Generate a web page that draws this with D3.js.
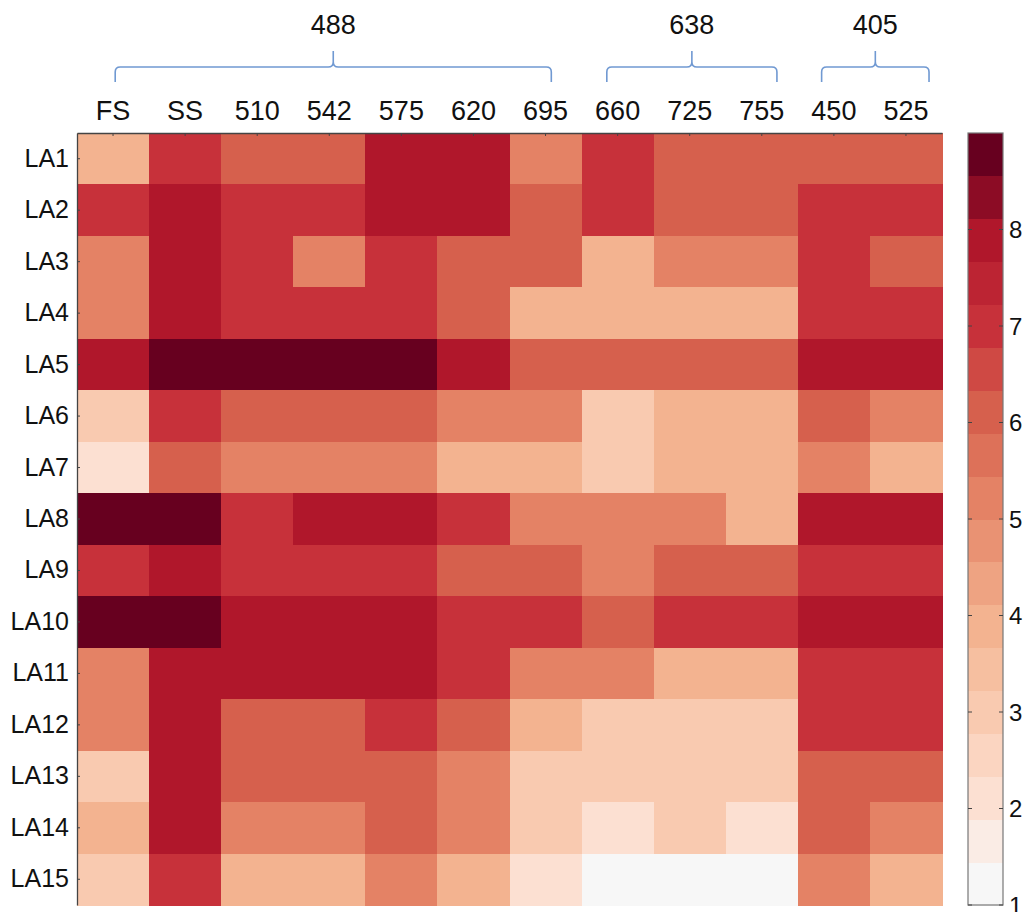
<!DOCTYPE html>
<meta charset="utf-8">
<title>LA heatmap</title>
<html>
<style>
body { margin: 0; background: #fff; }
svg { display: block; font-family: "Liberation Sans", Arial, Helvetica, sans-serif; }
.axis path, .axis line { stroke: #444; }
</style>
<body>
<svg width="1023" height="912"></svg>

<script src="https://d3js.org/d3.v7.min.js"></script>
<script>
// columns along the top, rows down the side
var columns = ["FS", "SS", "510", "542", "575", "620", "695", "660", "725", "755", "450", "525"];
var rows = ["LA1", "LA2", "LA3", "LA4", "LA5", "LA6", "LA7", "LA8", "LA9", "LA10", "LA11", "LA12", "LA13", "LA14", "LA15"];

// score per row, one value per column (same order as columns)
var LA1  = [4, 7, 6, 6, 8, 8, 5, 7, 6, 6, 6, 6];
var LA2  = [7, 8, 7, 7, 8, 8, 6, 7, 6, 6, 7, 7];
var LA3  = [5, 8, 7, 5, 7, 6, 6, 4, 5, 5, 7, 6];
var LA4  = [5, 8, 7, 7, 7, 6, 4, 4, 4, 4, 7, 7];
var LA5  = [8, 9, 9, 9, 9, 8, 6, 6, 6, 6, 8, 8];
var LA6  = [3, 7, 6, 6, 6, 5, 5, 3, 4, 4, 6, 5];
var LA7  = [2, 6, 5, 5, 5, 4, 4, 3, 4, 4, 5, 4];
var LA8  = [9, 9, 7, 8, 8, 7, 5, 5, 5, 4, 8, 8];
var LA9  = [7, 8, 7, 7, 7, 6, 6, 5, 6, 6, 7, 7];
var LA10 = [9, 9, 8, 8, 8, 7, 7, 6, 7, 7, 8, 8];
var LA11 = [5, 8, 8, 8, 8, 7, 5, 5, 4, 4, 7, 7];
var LA12 = [5, 8, 6, 6, 7, 6, 4, 3, 3, 3, 7, 7];
var LA13 = [3, 8, 6, 6, 6, 5, 3, 3, 3, 3, 6, 6];
var LA14 = [4, 8, 5, 5, 6, 5, 3, 2, 3, 2, 6, 5];
var LA15 = [3, 7, 4, 4, 5, 4, 2, 1, 1, 1, 5, 4];
var values = [LA1, LA2, LA3, LA4, LA5, LA6, LA7, LA8, LA9, LA10, LA11, LA12, LA13, LA14, LA15];

// groups of columns shown with braces (start / end in column units)
var groupNames = ["488", "638", "405"];
var groupSpans = [[0.53, 6.58], [7.35, 9.71], [10.33, 11.82]];

var colorbarTicks = [1, 2, 3, 4, 5, 6, 7, 8];

// colormap: 18 steps over 1..9, reds half of RdBu
var nSteps = 18;
var anchorSteps = [0, 2, 4, 6, 9, 11, 13, 15, 17];
var anchorColors = ["#f7f7f7", "#fce0d2", "#f9cab0", "#f3b390", "#e48265", "#d6604d", "#c7313a", "#b0172b", "#67001f"];
var stepColor = d3.scaleLinear().domain(anchorSteps).range(anchorColors).interpolate(d3.interpolateRgb);
var bands = d3.range(nSteps).map(function(i) { return stepColor(i); });
var color = d3.scaleQuantize().domain([1, 9]).range(bands);

var svg = d3.select("svg");
var plotLeft = 77, plotRight = 942, plotTop = 133, plotBottom = 905;

var x = d3.scaleBand().domain(columns).range([plotLeft, plotRight]);
var y = d3.scaleBand().domain(rows).range([plotTop, plotBottom]);
var colPos = d3.scaleLinear().domain([0, columns.length]).range([plotLeft, plotRight]);

var cells = [];
rows.forEach(function(r, i) {
  columns.forEach(function(c, j) {
    cells.push({row: r, col: c, value: values[i][j]});
  });
});

svg.append("g")
  .selectAll("rect")
  .data(cells)
  .enter().append("rect")
    .attr("x", function(d) { return x(d.col); })
    .attr("y", function(d) { return y(d.row); })
    .attr("width", x.bandwidth() + 0.5)
    .attr("height", y.bandwidth() + 0.5)
    .attr("fill", function(d) { return color(d.value); })
    .attr("shape-rendering", "crispEdges");

// top axis
var xAxis = svg.append("g")
  .attr("class", "axis")
  .attr("transform", "translate(0," + plotTop + ")")
  .call(d3.axisTop(x).tickSizeInner(-3).tickSizeOuter(0).tickPadding(13));
xAxis.selectAll("text").attr("font-size", 27).attr("fill", "#111");
xAxis.select(".domain").attr("stroke-width", 1.3);

// left axis
var yAxis = svg.append("g")
  .attr("class", "axis")
  .attr("transform", "translate(" + plotLeft + ",0)")
  .call(d3.axisLeft(y).tickSizeInner(-3).tickSizeOuter(0).tickPadding(8));
yAxis.selectAll("text").attr("font-size", 25).attr("fill", "#111");
yAxis.select(".domain").attr("stroke-width", 1.3);

// braces over column groups
var yH = 67, yEnd = 82, ySpike = 51, r = 5;
function brace(span) {
  var x0 = colPos(span[0]), x1 = colPos(span[1]), xm = (x0 + x1) / 2;
  return "M" + x0 + "," + yEnd + "L" + x0 + "," + (yH + r) +
    "Q" + x0 + "," + yH + " " + (x0 + r) + "," + yH +
    "L" + (xm - r) + "," + yH +
    "Q" + xm + "," + yH + " " + xm + "," + (yH - r) +
    "L" + xm + "," + ySpike +
    "M" + xm + "," + (yH - r) +
    "Q" + xm + "," + yH + " " + (xm + r) + "," + yH +
    "L" + (x1 - r) + "," + yH +
    "Q" + x1 + "," + yH + " " + x1 + "," + (yH + r) +
    "L" + x1 + "," + yEnd;
}

var groups = svg.append("g")
  .selectAll("g")
  .data(groupNames)
  .enter().append("g");

groups.append("path")
  .attr("d", function(d, i) { return brace(groupSpans[i]); })
  .attr("fill", "none")
  .attr("stroke", "#7099d2")
  .attr("stroke-width", 1.6);

groups.append("text")
  .attr("x", function(d, i) { return colPos((groupSpans[i][0] + groupSpans[i][1]) / 2); })
  .attr("y", 25)
  .attr("dy", "0.35em")
  .attr("text-anchor", "middle")
  .attr("font-size", 27)
  .attr("fill", "#111")
  .text(function(d) { return d; });

// colorbar
var cbX = 968, cbW = 35;
var cbY = d3.scaleLinear().domain([1, 9]).range([plotBottom, plotTop]);
var cb = svg.append("g");

cb.selectAll("rect")
  .data(bands)
  .enter().append("rect")
    .attr("x", cbX)
    .attr("y", function(d) { return cbY(color.invertExtent(d)[1]); })
    .attr("width", cbW)
    .attr("height", function(d) { var e = color.invertExtent(d); return cbY(e[0]) - cbY(e[1]) + 0.5; })
    .attr("fill", function(d) { return d; })
    .attr("shape-rendering", "crispEdges");

cb.append("rect")
  .attr("x", cbX)
  .attr("y", plotTop)
  .attr("width", cbW)
  .attr("height", plotBottom - plotTop)
  .attr("fill", "none")
  .attr("stroke", "#777")
  .attr("stroke-width", 1.2);

var cbTick = cb.selectAll(".cbtick")
  .data(colorbarTicks)
  .enter().append("g")
    .attr("class", "cbtick")
    .attr("transform", function(d) { return "translate(0," + cbY(d) + ")"; });

cbTick.append("line")
  .attr("x1", cbX).attr("x2", cbX + 4)
  .attr("stroke", "#444");
cbTick.append("line")
  .attr("x1", cbX + cbW - 4).attr("x2", cbX + cbW)
  .attr("stroke", "#444");
cbTick.append("text")
  .attr("x", cbX + cbW + 6)
  .attr("dy", "0.36em")
  .style("font-size", "24px")
  .attr("fill", "#111")
  .text(function(d) { return d; });
</script>
</body>
</html>
